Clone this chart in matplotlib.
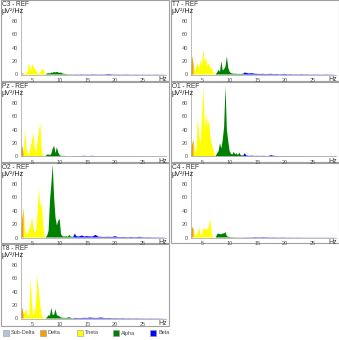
import numpy as np
import matplotlib.pyplot as plt
from matplotlib.patches import Rectangle

plt.rcParams['font.family'] = ['Liberation Sans', 'DejaVu Sans']

# frequency grid: 0.25 Hz below 13 Hz, 0.5 Hz above
freqs = np.concatenate([np.arange(3.0, 13.0, 0.25), np.arange(13.0, 29.5, 0.5)])

channels = ['C3 - REF', 'T7 - REF', 'Pz - REF', 'O1 - REF', 'O2 - REF', 'C4 - REF', 'T8 - REF']

c3 = [1, 2, 1, 0.5, 2, 6, 18, 5, 15, 13,
      9, 5, 2, 1, 3, 7, 9, 2, 0.5, 1.5,
      2, 1.5, 3, 2.5, 4, 3, 4, 3, 2.5, 3,
      1.5, 1, 0.8, 0.6, 0.5, 0.4, 0.5, 0.4, 0.3, 0.3,
      0.4, 0.3, 0.5, 0.3, 0.4, 0.3, 0.5, 0.4, 0.3, 0.4, 0.3, 0.6, 0.8, 0.4, 0.3, 0.4, 0.3,
      0.3, 0.4, 0.3, 0.2, 0.3, 0.3, 0.2, 0.3, 0.2, 0.3, 0.2, 0.2, 0.3, 0.2, 0.2, 0.2]
t7 = [8, 28, 12, 4, 12, 18, 8, 22, 14, 37,
      20, 24, 12, 18, 8, 11, 4, 1, 0.5, 3,
      7, 4, 20, 6, 8, 12, 27, 10, 4, 2,
      1.5, 1, 1.2, 1, 0.8, 1, 0.8, 1, 1.5, 3,
      2.5, 1.5, 2, 1.2, 1, 0.8, 1, 0.6, 0.8, 1, 0.6, 0.8, 0.5, 0.6, 0.8, 0.5, 0.6,
      0.4, 0.5, 0.4, 0.6, 0.4, 0.5, 0.3, 0.4, 0.3, 0.4, 0.3, 0.3, 0.4, 0.3, 0.3, 0.2]
pz = [16, 15, 5, 40, 12, 2, 5, 14, 24, 36,
      12, 4, 22, 38, 51, 10, 0.5, 0.5, 1, 3,
      3, 2, 4, 12, 16, 5, 14, 6, 2, 1,
      0.8, 1, 0.8, 0.5, 0.4, 0.5, 0.4, 0.3, 0.3, 0.5,
      0.6, 0.5, 0.8, 1, 0.6, 0.8, 1, 0.5, 0.6, 0.5, 0.4, 0.5, 0.4, 0.3, 0.4, 0.3, 0.3,
      0.4, 0.3, 0.3, 0.2, 0.3, 0.2, 0.2, 0.3, 0.2, 0.2, 0.2, 0.2, 0.2, 0.2, 0.2, 0.2]
o1 = [8, 20, 25, 5, 10, 58, 30, 20, 60, 105,
      40, 64, 45, 55, 30, 20, 12, 3, 1, 5,
      8, 20, 12, 25, 44, 105, 40, 23, 8, 4,
      3, 7, 3, 5, 2, 6, 2, 1.5, 2, 5,
      1.5, 1, 1.2, 0.8, 1, 0.8, 1, 0.8, 0.6, 2, 1, 0.8, 0.6, 0.5, 0.6, 0.5, 0.4,
      0.5, 0.4, 0.4, 0.5, 0.4, 0.3, 0.4, 0.3, 0.3, 0.4, 0.3, 0.3, 0.3, 0.2, 0.3, 0.2]
o2 = [10, 30, 44, 12, 4, 6, 12, 18, 30, 15,
      6, 12, 35, 74, 45, 53, 22, 2, 0.5, 3,
      10, 55, 80, 109, 60, 30, 18, 25, 28, 5,
      2, 1.5, 1.5, 2, 1, 4, 1.5, 1, 1.5, 6,
      2, 1.5, 3, 1.5, 2, 1.5, 1.5, 4, 1.2, 1, 0.8, 1, 1, 0.8, 2, 0.8, 0.6,
      0.8, 0.6, 0.5, 0.8, 0.5, 0.6, 1, 0.5, 0.4, 0.5, 0.4, 0.4, 0.3, 0.4, 0.3, 0.3]
c4 = [5, 16, 12, 3, 4, 8, 15, 4, 3, 14,
      12, 14, 10, 18, 28, 6, 0.5, 0.3, 0.5, 5,
      6, 5, 5, 6, 6, 8, 2, 1, 0.8, 0.5,
      0.4, 0.5, 0.4, 0.3, 0.3, 0.4, 0.3, 0.3, 0.3, 0.3,
      0.3, 0.4, 0.3, 0.6, 0.5, 0.4, 0.6, 0.5, 0.4, 0.3, 0.4, 0.3, 0.3, 0.4, 0.3, 0.2, 0.3,
      0.2, 0.2, 0.3, 0.2, 0.2, 0.2, 0.2, 0.2, 0.2, 0.2, 0.2, 0.2, 0.2, 0.2, 0.2, 0.2]
t8 = [10, 16, 5, 10, 14, 3, 5, 61, 20, 5,
      10, 25, 64, 40, 20, 5, 1, 0.5, 0.5, 2,
      5, 4, 16, 5, 6, 14, 5, 4, 3, 1.5,
      1, 1, 0.8, 1, 1.5, 2, 1, 0.6, 0.5, 1,
      0.8, 0.6, 0.8, 1, 0.8, 1.5, 1, 0.8, 1, 1.5, 0.8, 0.6, 0.8, 0.5, 0.6, 0.5, 0.5,
      0.6, 0.4, 0.5, 0.4, 0.4, 0.5, 0.3, 0.4, 0.3, 0.3, 0.4, 0.3, 0.3, 0.3, 0.2, 0.2]
spectra = [c3, t7, pz, o1, o2, c4, t8]

band_names = ['Sub-Delta', 'Delta', 'Theta', 'Alpha', 'Beta']
band_colors = ['#b0c4de', '#f5a000', '#ffff00', '#008000', '#0000ff']
band_limits = [(0.0, 1.0), (1.0, 3.5), (3.5, 7.5), (7.5, 12.5), (12.5, 30.0)]

W, H = 339, 340
fig = plt.figure(figsize=(W / 100, H / 100), dpi=100)


def fx(px):
    return px / W


def fy(py):
    return 1 - py / H


panel_lefts = [0, 170]
panel_tops = [0, 82, 163, 244]
panel_heights = [81, 80, 80, 82]

for i, (name, vals) in enumerate(zip(channels, spectra)):
    r, c = divmod(i, 2)
    pl, pt, ph = panel_lefts[c], panel_tops[r], panel_heights[r]
    fig.patches.append(Rectangle((fx(pl + 0.5), fy(pt + ph)), fx(168), ph / H,
                                 transform=fig.transFigure, facecolor='white',
                                 edgecolor='#a0a0a0', lw=0.8, zorder=-5))
    zero = pt + 74.5
    ax = fig.add_axes([fx(pl + 21), fy(zero), fx(26.3 * 5.52), 66.75 / H])
    ax.set_facecolor('none')
    vals = np.array(vals, dtype=float)
    for (lo, hi), col in zip(band_limits, band_colors):
        m = (freqs >= lo) & (freqs <= hi)
        if m.sum() > 1:
            ax.fill_between(freqs[m], vals[m], facecolor=col, lw=0, clip_on=False)
    ax.set_xlim(3, 29.3)
    ax.set_ylim(0, 100)
    ax.set_xticks([5, 10, 15, 20, 25])
    ax.set_yticks([0, 20, 40, 60, 80])
    ax.tick_params(length=0, labelsize=4, labelcolor='#555555', pad=2.2)
    for s in ['top', 'right']:
        ax.spines[s].set_visible(False)
    for s in ['left', 'bottom']:
        ax.spines[s].set_color('#b0b0b0')
        ax.spines[s].set_linewidth(0.6)
    fig.text(fx(pl + 1.5), fy(pt + 4.2), name, fontsize=4.7, color='#333333', va='center')
    fig.text(fx(pl + 1.5), fy(pt + 11.5), 'µV²/Hz', fontsize=5.2, color='#222222', va='center')
    fig.text(fx(pl + 163), fy(zero + 5), 'Hz', fontsize=5, color='#333333',
             va='center', ha='center')

# legend row
for k, (lab, col) in enumerate(zip(band_names, band_colors)):
    x0 = 3 + k * 36.8
    fig.patches.append(Rectangle((fx(x0), fy(336)), fx(6), 6 / H, transform=fig.transFigure,
                                 facecolor=col, edgecolor='#999999', lw=0.4))
    fig.text(fx(x0 + 8), fy(333), lab, fontsize=4, color='#444444', va='center')

fig.savefig('out.png', dpi=100)
